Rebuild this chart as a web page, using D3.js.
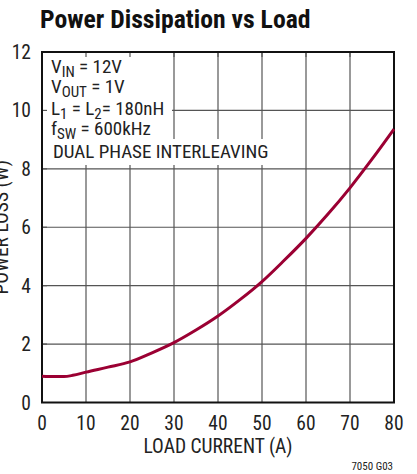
<!DOCTYPE html>
<html lang="en">
<head>
<meta charset="UTF-8">
<title>Power Dissipation vs Load</title>
<script src="https://cdn.jsdelivr.net/npm/d3@7/dist/d3.min.js"></script>
<style>
  body { margin: 0; background: #fff; }
  text { font-family: "Liberation Sans Narrow", "Roboto Condensed", "DejaVu Sans Condensed", sans-serif; }
</style>
</head>
<body>
<script>
  // load current (A) vs power loss (W)
  var loadCurrent = [0, 3, 5, 7, 10, 15, 20, 25, 30, 35, 40, 45, 50, 55, 60, 65, 70, 75, 80];
  var powerLoss   = [0.9, 0.89, 0.89, 0.93, 1.04, 1.21, 1.39, 1.7, 2.05, 2.48, 2.96, 3.52, 4.14, 4.86, 5.62, 6.45, 7.35, 8.33, 9.36];
  var xTicks = [0, 10, 20, 30, 40, 50, 60, 70, 80];
  var yTicks = [0, 2, 4, 6, 8, 10, 12];

  var W = 417, H = 474;
  var pLeft = 42, pRight = 394, pTop = 52, pBottom = 402.5;
  var fs = 19.5;

  var svg = d3.select("body").append("svg")
    .attr("width", W).attr("height", H);

  var x = d3.scaleLinear().domain([0, 80]).range([pLeft, pRight]);
  var y = d3.scaleLinear().domain([0, 12]).range([pBottom, pTop]);

  svg.append("text")
    .attr("x", 40).attr("y", 28)
    .attr("font-size", 25.7).attr("font-weight", "bold")
    .attr("fill", "#111")
    .text("Power Dissipation vs Load");

  // grid
  svg.selectAll("line.vgrid").data(xTicks.slice(1, -1)).enter().append("line")
    .attr("class", "vgrid")
    .attr("x1", d => x(d)).attr("x2", d => x(d))
    .attr("y1", pTop).attr("y2", pBottom)
    .attr("stroke", "#555").attr("stroke-width", 1.2);
  svg.selectAll("line.hgrid").data(yTicks.slice(1, -1)).enter().append("line")
    .attr("class", "hgrid")
    .attr("x1", pLeft).attr("x2", pRight)
    .attr("y1", d => y(d)).attr("y2", d => y(d))
    .attr("stroke", "#555").attr("stroke-width", 1.2);

  // legend boxes hide grid
  svg.append("rect").attr("x", pLeft + 1).attr("y", pTop + 1)
    .attr("width", 129).attr("height", 86).attr("fill", "#fff");
  svg.append("rect").attr("x", pLeft + 1).attr("y", pTop + 87)
    .attr("width", 229).attr("height", 26).attr("fill", "#fff");

  // inner tick stubs
  svg.selectAll("line.tt").data(xTicks.slice(1, -1)).enter().append("line")
    .attr("class", "tt")
    .attr("x1", d => x(d)).attr("x2", d => x(d))
    .attr("y1", pTop).attr("y2", pTop + 5)
    .attr("stroke", "#555").attr("stroke-width", 1.2);
  svg.selectAll("line.lt").data(yTicks.slice(1, -1)).enter().append("line")
    .attr("class", "lt")
    .attr("x1", pLeft).attr("x2", pLeft + 5)
    .attr("y1", d => y(d)).attr("y2", d => y(d))
    .attr("stroke", "#555").attr("stroke-width", 1.2);

  // frame
  svg.append("rect")
    .attr("x", pLeft).attr("y", pTop)
    .attr("width", pRight - pLeft).attr("height", pBottom - pTop)
    .attr("fill", "none").attr("stroke", "#111").attr("stroke-width", 2);

  // curve
  var line = d3.line()
    .x((d, i) => x(loadCurrent[i]))
    .y(d => y(d))
    .curve(d3.curveMonotoneX);
  svg.append("path")
    .datum(powerLoss)
    .attr("d", line)
    .attr("fill", "none")
    .attr("stroke", "#9b0033")
    .attr("stroke-width", 3);

  // tick labels
  svg.selectAll("text.xl").data(xTicks).enter().append("text")
    .attr("class", "xl")
    .attr("x", d => x(d)).attr("y", 430)
    .attr("text-anchor", "middle").attr("font-size", fs).attr("fill", "#222")
    .text(d => d);
  svg.selectAll("text.yl").data(yTicks).enter().append("text")
    .attr("class", "yl")
    .attr("x", 31).attr("y", d => y(d) + 7)
    .attr("text-anchor", "end").attr("font-size", fs).attr("fill", "#222")
    .text(d => d);

  svg.append("text")
    .attr("x", 218).attr("y", 453)
    .attr("text-anchor", "middle").attr("font-size", fs).attr("fill", "#222")
    .text("LOAD CURRENT (A)");

  svg.append("text")
    .attr("transform", "translate(8," + ((pTop + pBottom) / 2) + ") rotate(-90)")
    .attr("text-anchor", "middle").attr("font-size", fs).attr("fill", "#222")
    .text("POWER LOSS (W)");

  svg.append("text")
    .attr("x", 393).attr("y", 470)
    .attr("text-anchor", "end").attr("font-size", 11).attr("fill", "#222")
    .text("7050 G03");

  // conditions
  var cond = [
    { y: 73, parts: [["V", 0], ["IN", 1], [" = 12V", 0]] },
    { y: 93, parts: [["V", 0], ["OUT", 1], [" = 1V", 0]] },
    { y: 115, parts: [["L", 0], ["1", 1], [" = L", 0], ["2", 1], ["= 180nH", 0]] },
    { y: 135, parts: [["f", 0], ["SW", 1], [" = 600kHz", 0]] },
    { y: 158, parts: [["DUAL PHASE INTERLEAVING", 0]] }
  ];
  cond.forEach(function(c, ci) {
    var t = svg.append("text")
      .attr("x", ci === 4 ? 53 : 51).attr("y", c.y)
      .attr("font-size", 19).attr("fill", "#222");
    c.parts.forEach(function(p) {
      var sp = t.append("tspan").text(p[0]);
      if (p[1]) sp.attr("font-size", 15).attr("baseline-shift", "-4");
    });
  });
</script>
</body>
</html>
